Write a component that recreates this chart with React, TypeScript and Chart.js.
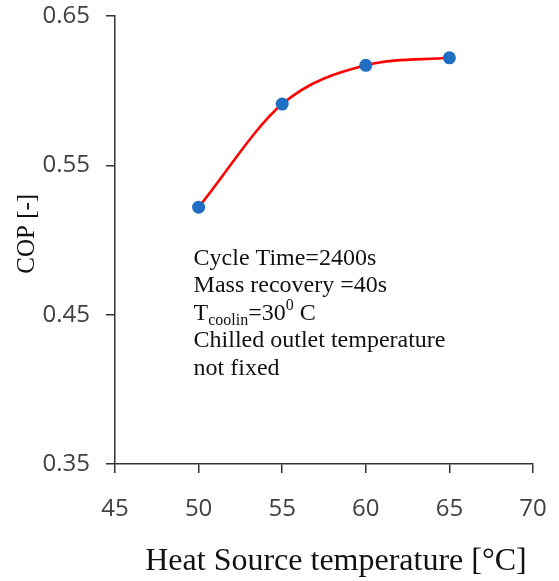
import React, { useEffect, useRef } from "react";
import { Chart, registerables } from "chart.js";

Chart.register(...registerables);

const temperatures = [50, 55, 60, 65];
const copValues = [0.522, 0.591, 0.617, 0.622];
const xTicks = [45, 50, 55, 60, 65, 70];
const yTicks = [0.35, 0.45, 0.55, 0.65];
const noteLines = [
  "Cycle Time=2400s",
  "Mass recovery =40s",
  "T|coolin|=30|0| C",
  "Chilled outlet temperature",
  "not fixed",
];

const notePlugin = {
  id: "note",
  afterDraw(chart: any) {
    const { ctx, scales } = chart;
    const x0 = scales.x.getPixelForValue(49.7);
    const y0 = scales.y.getPixelForValue(0.4833);
    const lh = 27.5;
    ctx.save();
    ctx.fillStyle = "#111";
    ctx.textBaseline = "alphabetic";
    ctx.textAlign = "left";
    noteLines.forEach((line, i) => {
      const y = y0 + i * lh;
      if (line.includes("|")) {
        const parts = line.split("|");
        let x = x0;
        parts.forEach((p, j) => {
          let size = 24;
          let dy = 0;
          if (j === 1) { size = 16; dy = 5; }
          if (j === 3) { size = 16; dy = -10; }
          ctx.font = `${size}px "Liberation Serif"`;
          ctx.fillText(p, x, y + dy);
          x += ctx.measureText(p).width;
        });
      } else {
        ctx.font = '24px "Liberation Serif"';
        ctx.fillText(line, x0, y);
      }
    });
    ctx.restore();
  },
};

export default function App() {
  const ref = useRef<HTMLCanvasElement>(null);
  useEffect(() => {
    if (!ref.current) return;
    const chart = new Chart(ref.current, {
      type: "line",
      data: {
        datasets: [
          {
            data: temperatures.map((t, i) => ({ x: t, y: copValues[i] })),
            borderColor: "#ff0000",
            borderWidth: 2.6,
            cubicInterpolationMode: "monotone",
            pointRadius: 6.5,
            pointBackgroundColor: "#1e6fc1",
            pointBorderColor: "#1e6fc1",
            pointBorderWidth: 0,
            fill: false,
          },
        ],
      },
      options: {
        responsive: false,
        animation: false,
        layout: { padding: { top: 16, right: 26, left: 0, bottom: 0 } },
        plugins: { legend: { display: false }, tooltip: { enabled: false } },
        scales: {
          x: {
            type: "linear",
            min: 45,
            max: 70,
            afterBuildTicks: (s: any) => {
              s.ticks = xTicks.map((v) => ({ value: v }));
            },
            afterFit: (s: any) => {
              s.height = 117;
              s.paddingLeft = 0;
              s.paddingRight = 0;
            },
            border: { display: true, color: "#333", width: 1.5 },
            grid: { drawOnChartArea: false, tickLength: 9, color: "#333", lineWidth: 1.5 },
            ticks: {
              padding: 22,
              color: "#404040",
              font: { family: "Open Sans", size: 24 },
            },
            title: {
              display: true,
              text: "   Heat Source temperature [°C]",
              color: "#111",
              font: { family: "Liberation Serif", size: 32 },
              padding: { bottom: 0, top: 0 },
            },
          },
          y: {
            type: "linear",
            min: 0.35,
            max: 0.65,
            afterBuildTicks: (s: any) => {
              s.ticks = yTicks.map((v) => ({ value: v }));
            },
            afterFit: (s: any) => {
              s.width = 115;
              s.paddingTop = 0;
              s.paddingBottom = 0;
            },
            border: { display: true, color: "#333", width: 1.5 },
            grid: { drawOnChartArea: false, tickLength: 9, color: "#333", lineWidth: 1.5 },
            ticks: {
              padding: 16,
              color: "#404040",
              font: { family: "Open Sans", size: 24 },
              callback: (v: any) => Number(v).toFixed(2),
            },
            title: {
              display: true,
              text: "  COP [-]",
              color: "#111",
              font: { family: "Liberation Serif", size: 25 },
              padding: { top: 12.5, bottom: 0 },
            },
          },
        },
      },
      plugins: [notePlugin],
    });
    return () => chart.destroy();
  }, []);
  return (
    <div style={{ position: "fixed", left: 0, top: 0, width: 559, height: 581, background: "#fff" }}>
      <canvas ref={ref} width={559} height={581} />
    </div>
  );
}
